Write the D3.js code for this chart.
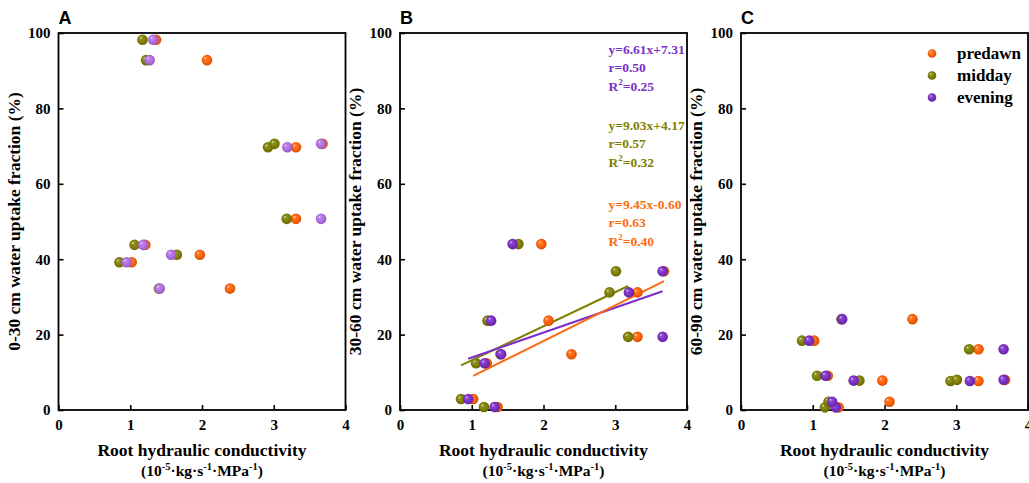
<!DOCTYPE html>
<html>
<head>
<meta charset="utf-8">
<script src="https://cdn.jsdelivr.net/npm/d3@7"></script>
<style>
  html, body { margin: 0; padding: 0; background: #fff; }
  svg { display: block; }
  text.serif { font-family: "Liberation Serif", "Times New Roman", "DejaVu Serif", serif; font-weight: bold; }
  .panel-letter { font-family: "Liberation Sans", Arial, sans-serif; font-weight: bold; font-size: 18px; }
</style>
</head>
<body>
<svg id="chart" width="1029" height="483"></svg>
<script>
// Sampling times (series)
const times = ["predawn", "midday", "evening"];

// Root hydraulic conductivity (10^-5 kg s^-1 MPa^-1) per plot, for each sampling time
const xPredawn = [1.36, 2.07, 3.31, 3.68, 3.31, 1.21, 1.02, 1.97, 2.39];
const xMidday  = [1.17, 1.22, 2.92, 3.01, 3.18, 1.06, 0.85, 1.65, 1.40];
const xEvening = [1.32, 1.27, 3.19, 3.66, 3.66, 1.18, 0.95, 1.57, 1.41];

// Water uptake fraction (%) by soil layer, same plot order
const uptake0to30  = [98.2, 92.8, 69.7, 70.6, 50.7, 43.8, 39.2, 41.2, 32.2];
const uptake30to60 = [0.8, 23.7, 31.2, 36.8, 19.4, 12.4, 2.9, 44.0, 14.8];
const uptake60to90 = [0.7, 2.2, 7.7, 8.0, 16.1, 9.1, 18.4, 7.8, 24.1];

// Linear fits for the 30-60 cm layer
const fitSlope     = [9.45, 9.03, 6.61];
const fitIntercept = [-0.60, 4.17, 7.31];
const fitR         = ["0.63", "0.57", "0.50"];
const fitR2        = ["0.40", "0.32", "0.25"];

// Panels and axis ticks
const panelLetters = ["A", "B", "C"];
const layerTitles = ["0-30 cm water uptake fraction (%)", "30-60 cm water uptake fraction (%)", "60-90 cm water uptake fraction (%)"];
const xTicks = [0, 1, 2, 3, 4];
const yTicks = [0, 20, 40, 60, 80, 100];

const xBySeries = [xPredawn, xMidday, xEvening];
const yByPanel = [uptake0to30, uptake30to60, uptake60to90];

const seriesColors = ["#ff6207", "#7f8003", "#7b2ec6"];
const eveningLightA = "#b36ee3";
const lineColors = ["#ff6a10", "#808000", "#7a30c8"];

const svg = d3.select("#chart");
const defs = svg.append("defs");

function sphere(id, color) {
  const g = defs.append("radialGradient").attr("id", id)
    .attr("cx", "50%").attr("cy", "50%").attr("r", "55%")
    .attr("fx", "32%").attr("fy", "30%");
  const c = d3.color(color);
  g.append("stop").attr("offset", "0%").attr("stop-color", d3.interpolateRgb(color, "#fff")(0.85));
  g.append("stop").attr("offset", "22%").attr("stop-color", d3.interpolateRgb(color, "#fff")(0.15));
  g.append("stop").attr("offset", "60%").attr("stop-color", color);
  g.append("stop").attr("offset", "100%").attr("stop-color", c.darker(0.7).formatHex());
  return `url(#${id})`;
}
const fills = seriesColors.map((c, i) => sphere("sp" + i, c));
const fillEveningA = sphere("spEA", eveningLightA);

const plotLefts = [58.5, 400, 741];
const plotW = 287, plotTop = 33, plotBottom = 410;
const R = 5.3;

function label(sel) {
  return sel.append("text").attr("class", "serif").style("fill", "#000");
}

plotLefts.forEach((left, p) => {
  const x = d3.scaleLinear().domain([0, 4]).range([left, left + plotW]);
  const y = d3.scaleLinear().domain([0, 100]).range([plotBottom, plotTop]);
  const g = svg.append("g");

  // ticks (inward) and labels
  const yAxis = d3.axisLeft(y).tickValues(yTicks).tickFormat(d3.format("d")).tickSize(-5).tickPadding(8);
  const xAxis = d3.axisBottom(x).tickValues(xTicks).tickFormat(d3.format("d")).tickSize(-5).tickPadding(9);
  const ya = g.append("g").attr("transform", `translate(${left},0)`).call(yAxis);
  const xa = g.append("g").attr("transform", `translate(0,${plotBottom})`).call(xAxis);
  [ya, xa].forEach(a => {
    a.attr("font-family", null).attr("font-size", null);
    a.select(".domain").remove();
    a.selectAll(".tick line").attr("stroke", "#000").attr("stroke-width", 1.6);
    a.selectAll(".tick text").attr("class", "serif").style("font-size", "15px").style("fill", "#000");
  });

  // frame
  g.append("rect").attr("x", left).attr("y", plotTop).attr("width", plotW).attr("height", plotBottom - plotTop)
    .attr("fill", "none").attr("stroke", "#000").attr("stroke-width", 1.8);

  // panel letter
  g.append("text").attr("class", "panel-letter").attr("x", left).attr("y", 24).text(panelLetters[p]);

  // y title
  label(g).attr("transform", `translate(${left - 39},${(plotTop + plotBottom) / 2}) rotate(-90)`)
    .attr("text-anchor", "middle").style("font-size", "17.5px").text(layerTitles[p]);

  // x title
  const cx = left + plotW / 2;
  label(g).attr("x", cx).attr("y", 456).attr("text-anchor", "middle")
    .style("font-size", "17.5px").text("Root hydraulic conductivity");
  const t2 = label(g).attr("x", cx).attr("y", 476).attr("text-anchor", "middle").style("font-size", "15.5px");
  t2.append("tspan").text("(10");
  t2.append("tspan").attr("dy", -6).style("font-size", "10.5px").text("-5");
  t2.append("tspan").attr("dy", 6).text("·kg·s");
  t2.append("tspan").attr("dy", -6).style("font-size", "10.5px").text("-1");
  t2.append("tspan").attr("dy", 6).text("·MPa");
  t2.append("tspan").attr("dy", -6).style("font-size", "10.5px").text("-1");
  t2.append("tspan").attr("dy", 6).text(")");

  // regression lines for the 30-60 cm layer
  if (p === 1) {
    [1, 2, 0].forEach(s => {
      const xs = xBySeries[s];
      const x0 = d3.min(xs), x1 = d3.max(xs);
      g.append("line")
        .attr("x1", x(x0)).attr("y1", y(fitSlope[s] * x0 + fitIntercept[s]))
        .attr("x2", x(x1)).attr("y2", y(fitSlope[s] * x1 + fitIntercept[s]))
        .attr("stroke", lineColors[s]).attr("stroke-width", 2);
    });
  }

  // points: predawn, midday, evening on top
  times.forEach((t, s) => {
    const pts = xBySeries[s].map((xv, i) => ({ x: xv, y: yByPanel[p][i] }));
    g.append("g").selectAll("circle").data(pts).join("circle")
      .attr("cx", d => x(d.x)).attr("cy", d => y(d.y)).attr("r", R)
      .attr("fill", (p === 0 && s === 2) ? fillEveningA : fills[s]);
  });

  // fit statistics
  if (p === 1) {
    const order = [2, 1, 0];
    const baseY = [54, 130, 209];
    order.forEach((s, k) => {
      const tx = 608.5;
      const col = lineColors[s];
      const sign = fitIntercept[s] < 0 ? "-" : "+";
      const eq = `y=${fitSlope[s].toFixed(2)}x${sign}${Math.abs(fitIntercept[s]).toFixed(2)}`;
      label(g).attr("x", tx).attr("y", baseY[k]).style("font-size", "13.5px").style("fill", col).text(eq);
      label(g).attr("x", tx).attr("y", baseY[k] + 18).style("font-size", "13.5px").style("fill", col).text("r=" + fitR[s]);
      const r2 = label(g).attr("x", tx).attr("y", baseY[k] + 37).style("font-size", "13.5px").style("fill", col);
      r2.append("tspan").text("R");
      r2.append("tspan").attr("dy", -6).style("font-size", "9px").text("2");
      r2.append("tspan").attr("dy", 6).text("=" + fitR2[s]);
    });
  }

  // legend
  if (p === 2) {
    const lg = g.append("g");
    times.forEach((t, s) => {
      const ly = 53.5 + s * 22;
      lg.append("circle").attr("cx", 932).attr("cy", ly).attr("r", 4.3).attr("fill", fills[s]);
      label(lg).attr("x", 957).attr("y", ly + 5.5).style("font-size", "17px").text(t);
    });
  }
});
</script>
</body>
</html>
